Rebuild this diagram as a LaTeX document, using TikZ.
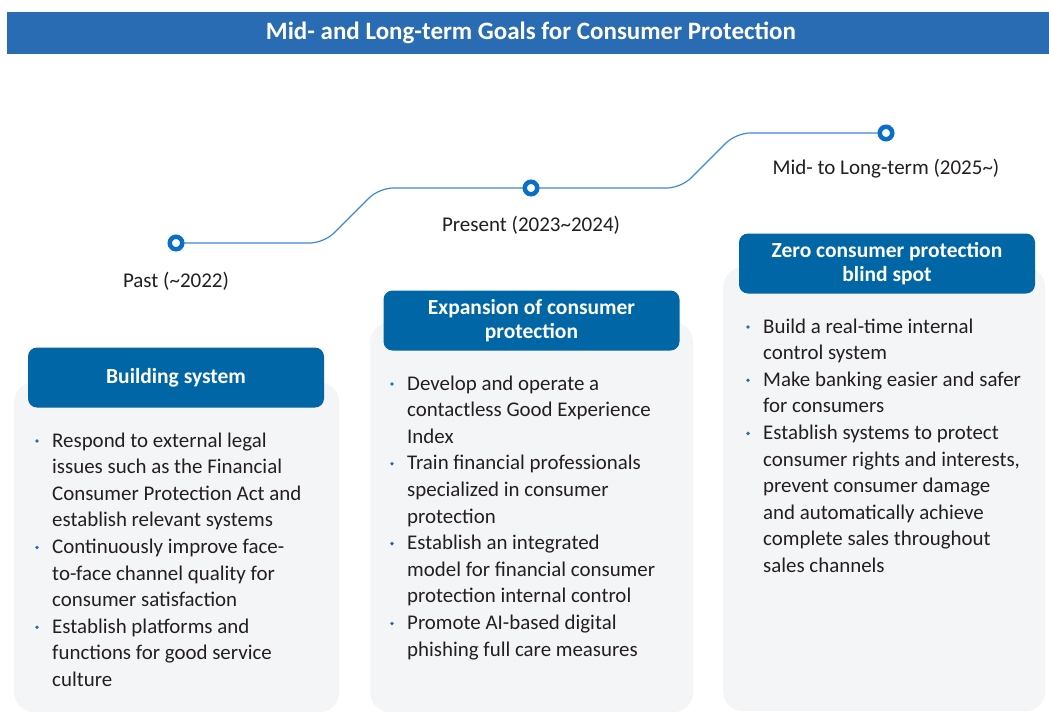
\documentclass[tikz,border=0pt]{standalone}
\usepackage{fontspec}
\setmainfont{Carlito}
\definecolor{barblue}{HTML}{2A6CB4}
\definecolor{headblue}{HTML}{0066A5}
\definecolor{lineblue}{HTML}{3A8AD8}
\definecolor{ringblue}{HTML}{0A6FC8}
\definecolor{cardgray}{HTML}{F4F5F7}
\definecolor{txt}{HTML}{231F20}
\tikzset{
  titlebar/.style={fill=barblue, draw=none, text=white, inner sep=0pt, font=\fontsize{25}{28}\selectfont\bfseries},
  card/.style={fill=cardgray, draw=none, rounded corners=20pt, inner sep=0pt},
  header/.style={fill=headblue, draw=none, rounded corners=9pt, text=white, align=center, inner sep=0pt, minimum width=296pt, minimum height=60pt, font=\fontsize{21.5}{24}\selectfont\bfseries},
  ring/.style={circle, draw=ringblue, line width=4.5pt, fill=white, minimum size=12.5pt, inner sep=0pt},
  tline/.style={draw=lineblue, line width=1.2pt, rounded corners=14pt},
  period/.style={text=txt, inner sep=0pt, font=\fontsize{21}{24}\selectfont},
  item/.style={text=txt, inner sep=0pt, align=left, anchor=base west, font=\fontsize{20.9}{26.6}\selectfont},
  bdot/.style={circle, fill=barblue, minimum size=3.8pt, inner sep=0pt}
}
\begin{document}
\begin{tikzpicture}[x=1pt,y=-1pt]
\useasboundingbox (0,0) rectangle (1049,712);
\fill[white] (0,0) rectangle (1049,712);
% title
\node[titlebar, minimum width=1042pt, minimum height=42pt, anchor=north west] (title) at (7,12) {};
\node[titlebar, fill=none] (titletext) at (531,32.5) {Mid- and Long-term Goals for Consumer Protection};
% cards
\node[card, minimum width=325pt, minimum height=330pt, anchor=north west] (card1) at (14,382) {};
\node[card, minimum width=323pt, minimum height=390pt, anchor=north west] (card2) at (370,322) {};
\node[card, minimum width=322pt, minimum height=444pt, anchor=north west] (card3) at (723,267) {};
% headers
\node[header] (head1) at (176,377.5) {Building system};
\node[header] (head2) at (531.5,320.5) {Expansion of consumer\\protection};
\node[header] (head3) at (887,263.5) {Zero consumer protection\\blind spot};
% timeline
\coordinate (p1) at (176,243);
\coordinate (p2) at (531,188);
\coordinate (p3) at (886,133);
\draw[tline] (p1) -- (324,243) -- (379,188) -- (p2);
\draw[tline] (p2) -- (681,188) -- (736,133) -- (p3);
\node[ring] (c1) at (p1) {};
\node[ring] (c2) at (p2) {};
\node[ring] (c3) at (p3) {};
\node[period] (l1) at (176,281.5) {Past (\textasciitilde 2022)};
\node[period] (l2) at (531,225.5) {Present (2023\textasciitilde 2024)};
\node[period] (l3) at (886,168.5) {Mid- to Long-term (2025\textasciitilde)};
% card 1 items (anchor = baseline of last line)
\node[bdot] (d11) at (37,441) {};
\node[item] (i11) at (52,526.8) {Respond to external legal\\issues such as the Financial\\Consumer Protection Act and\\establish relevant systems};
\node[bdot] (d12) at (37,547.4) {};
\node[item] (i12) at (52,606.6) {Continuously improve face-\\to-face channel quality for\\consumer satisfaction};
\node[bdot] (d13) at (37,627.2) {};
\node[item] (i13) at (52,686.4) {Establish platforms and\\functions for good service\\culture};
% card 2 items
\node[bdot] (d21) at (392,384) {};
\node[item] (i21) at (407,443.2) {Develop and operate a\\contactless Good Experience\\Index};
\node[bdot] (d22) at (392,463.8) {};
\node[item] (i22) at (407,523) {Train financial professionals\\specialized in consumer\\protection};
\node[bdot] (d23) at (392,543.6) {};
\node[item] (i23) at (407,602.8) {Establish an integrated\\model for financial consumer\\protection internal control};
\node[bdot] (d24) at (392,623.4) {};
\node[item] (i24) at (407,656) {Promote AI-based digital\\phishing full care measures};
% card 3 items
\node[bdot] (d31) at (748,327) {};
\node[item] (i31) at (763,359.6) {Build a real-time internal\\control system};
\node[bdot] (d32) at (748,380.2) {};
\node[item] (i32) at (763,412.8) {Make banking easier and safer\\for consumers};
\node[bdot] (d33) at (748,433.4) {};
\node[item] (i33) at (763,572.4) {Establish systems to protect\\consumer rights and interests,\\prevent consumer damage\\and automatically achieve\\complete sales throughout\\sales channels};
\end{tikzpicture}
\end{document}
